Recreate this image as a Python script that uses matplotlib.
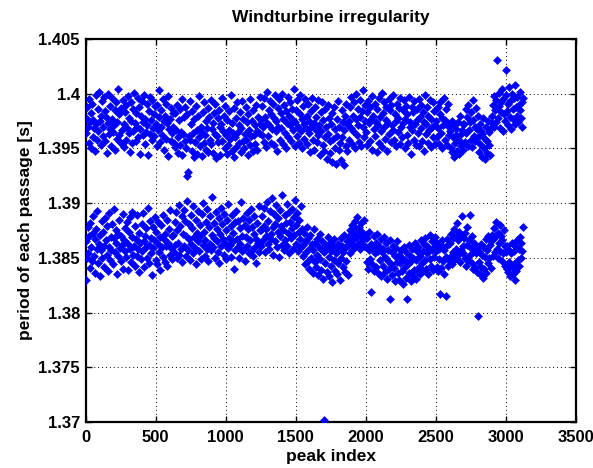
import numpy as np
import matplotlib
matplotlib.use("Agg")
import matplotlib.pyplot as plt

plt.rcParams['font.family'] = ['Liberation Sans', 'DejaVu Sans']

# Values, in units of 0.0001 s above a band base.
# Upper band: base 1.390 s ; lower band: base 1.380 s.  Samples every 5 peaks.
upper_base = 1.390
lower_base = 1.380
peak_step = 5
upper_start = 2
lower_start = 0

upper_seg1 = """78 64 88 70 55 95 74 50 82 91 60 76 69 48 99 72 58 86 66 102 75 53 80 93 61
70 97 57 84 79 46 73 100 63 68 89 52 77 96 65 71 49 85 92 59 74 104 62 81 56
87 67 54 94 72 51 83 90 58 69 98 64 78 47 92 75 55 86 66 101 73 57 82 70 96
60 88 68 45 80 93 62 74 99 54 77 65 91 71 44 84 97 63 76 58 94 69 81 61 89
72 52 90 67 79 103 56 85 70 62 95 75 49 80 91 59 73 43 98 68 77 57 87 64 82"""

upper_seg2 = """70 55 82 51 67 90 60 46 76 86 53 65 95 44 63 79 57 88 50 25 81 28 61 93 58
72 48 84 64 42 77 56 89 67 45 80 60 98 52 70 66 43 83 55 92 62 75 49 69 87
47 79 58 94 54 68 73 46 82 63 91 41 61 78 56 85 70 44 72 96 57 66 80 50 89
62 45 76 53 84 67 59 99 48 73 64 42 87 60 78 51 92 65 55 71 83 47 69 93 57
77 50 63 88 58 74 44 81 67 53 95 61 75 48 85 62 71 54 90 66 49 79 64 97 72"""

upper_seg3 = """76 62 89 70 56 96 79 51 73 102 61 85 71 93 55 81 68 91 53 78 99 66 75 48 87
70 95 58 82 69 100 54 77 90 64 84 50 73 97 60 80 71 92 57 86 67 76 104 52 74
85 61 94 70 55 81 99 66 77 50 89 72 59 95 69 80 54 91 64 75 47 84 70 96 58
73 49 88 67 79 56 94 62 71 44 83 66 92 53 76 48 86 60 70 40 90 63 78 46 57
72 38 82 59 88 50 68 36 77 61 93 49 70 55 39 85 60 74 35 67 80 52 91 48 71"""

upper_seg4 = """75 58 88 69 97 54 80 66 92 50 77 100 62 86 71 56 94 79 52 84 70 103 60 75 90
65 83 53 93 73 57 88 77 98 49 80 68 91 61 74 47 86 71 96 55 79 66 101 51 82
70 92 59 76 88 48 73 95 63 85 56 90 71 67 99 58 81 75 52 91 65 78 87 54 96
70 60 85 73 94 50 77 89 62 81 55 97 70 74 45 88 67 83 58 93 72 53 86 76 64
95 52 79 69 90 57 83 48 74 99 63 72 88 55 80 67 94 51 77 70 60 92 84 54 71"""

upper_seg5 = """75 60 88 69 54 81 92 64 78 50 71 96 58 76 86 53 73 91 62 70
66 50 75 47 60 42 71 55 68 62 48 74 45 58 80 63 52 67 72 49
72 56 86 64 79 52 90 67 74 58 83 51 76 94 61 70 57 87 68 80
60 47 72 54 66 42 63 78 50 59 40 70 57 46 75 53 65 44 69 73
80 90 70 98 85 74 94 131 78 89 101 69 92 83 104 66 95 81 75 99
122 84 91 71 106 79 93 68 100 86 77 96 72 108 88 80 97 74 90 85
102 78 92 70 96"""

lower_seg1 = """30 65 50 78 54 70 41 82 60 47 73 88 52 67 36 76 58 93 45 63 71 33 57 84 50
74 61 42 86 66 53 79 38 60 91 48 69 57 81 44 68 95 55 64 75 35 72 52 85 59
47 70 62 90 40 66 77 56 51 83 63 39 74 58 87 46 69 92 53 61 79 43 67 52 89
58 37 73 64 49 81 56 91 65 42 70 60 77 50 96 62 45 84 54 68 34 78 59 66 87
48 74 44 63 83 55 69 39 80 60 51 89 67 46 72 61 85 43 64 76 53 94 59 70 49"""

lower_seg2 = """71 55 83 62 92 50 75 64 98 53 79 58 88 46 72 94 61 84 52 70 102 57 67 81 48
89 63 77 54 97 69 59 85 44 73 65 93 56 80 70 49 90 62 100 74 52 66 83 58 95
47 78 63 88 57 71 106 60 68 82 50 92 65 76 55 86 45 72 96 61 81 67 53 90 64
75 49 85 59 99 68 62 79 51 89 65 73 40 83 57 93 67 60 84 50 77 63 101 56 70
86 58 80 47 69 91 61 76 54 85 66 95 57 78 52 72 88 60 67 45 82 64 97 55 75"""

lower_seg3 = """75 61 88 66 79 96 55 76 70 101 63 84 58 93 72 67 105 78 53 90 65 81 98 60 74
86 51 94 70 79 62 107 75 57 89 66 82 99 61 73 92 54 83 68 95 77 58 87 71 103
63 80 91 56 74 85 67 97 60 76
62 52 73 44 65 55 78 47 68 40 59 71 50 63 36 57 76 46 64 42 53 67 34 60 49
72 39 57 65 31 55 -98 45 62 37 59 69 33 51 64 43 56 28 61 48 67 38 54 60 35
63 45 57 30 68 50 61 42 55 71 37 59 47 65 34"""

lower_seg4 = """62 70 54 75 64 80 57 72 67 84 60 76 69 87 63 78 58 73 82 65 74 68 85 61 70
60 46 68 40 57 74 49 63 19 44 59 70 38 54 64 42 72 56 36 61 48 67 33 55 43
58 69 37 51 64 31 47 57 40 66 12 44 55 34 61 41 52 29 59 46 65 36 53 30 45
57 38 50 26 60 41 48 32 55 12 44 62 36 52 29 47 58 33 50 39 64 31 48 56 37
60 42 52 35 66 45 56 38 63 48 68 40 54 61 35 58 49 71 43 57 65 39 60 51 69"""

lower_seg5 = """56 42 64 38 58 49 17 62 41 66 47 57 35 60 15 51 67 43 63 48
64 52 72 44 68 55 76 49 70 58 82 53 66 74 46 71 57 88 61 54
68 50 73 43 62 78 48 66 53 89 59 45 70 40 56 64 42 54 37 60
-3 46 56 35 63 42 53 32 60 40 51 67 36 57 45 70 50 62 41 65
71 52 67 77 55 69 83 58 73 50 64 80 56 70 47 66 54 75 43 61
55 40 61 37 57 46 33 54 42 64 35 56 44 30 60 38 66 48 58 43
69 50 64 56 78"""

title = "Windturbine irregularity"
xlabel = "peak index"
ylabel = "period of each passage [s]"
xticks = [0, 500, 1000, 1500, 2000, 2500, 3000, 3500]
yticks = [1.37, 1.375, 1.38, 1.385, 1.39, 1.395, 1.4, 1.405]
yticklabels = ["1.37", "1.375", "1.38", "1.385", "1.39", "1.395", "1.4", "1.405"]


def parse(*segs):
    return np.array(" ".join(segs).split(), dtype=float)


upper_v = parse(upper_seg1, upper_seg2, upper_seg3, upper_seg4, upper_seg5)
lower_v = parse(lower_seg1, lower_seg2, lower_seg3, lower_seg4, lower_seg5)

upper_y = upper_base + upper_v * 1e-4
lower_y = lower_base + lower_v * 1e-4
upper_x = upper_start + peak_step * np.arange(len(upper_y))
lower_x = lower_start + peak_step * np.arange(len(lower_y))

x = np.concatenate([lower_x, upper_x])
y = np.concatenate([lower_y, upper_y])

fig = plt.figure(figsize=(5.93, 4.68), dpi=100)
ax = fig.add_axes([0.1442, 0.0983, 0.8272, 0.8184])

ax.plot(x, y, linestyle='none', marker='D', markersize=3.6,
        markerfacecolor='#0000ff', markeredgecolor='#0000ff',
        markeredgewidth=0.4, zorder=3)

ax.set_xlim(0, 3500)
ax.set_ylim(1.37, 1.405)
ax.set_xticks(xticks)
ax.set_yticks(yticks)
ax.set_yticklabels(yticklabels)

ax.grid(True, color='black', linestyle=(0, (1, 3)), linewidth=0.7)
ax.set_axisbelow(True)
for s in ax.spines.values():
    s.set_linewidth(1.6)
ax.tick_params(direction='in', length=4, width=1.0, top=True, right=True,
               labelsize=12, pad=6)
ax.tick_params(axis='y', pad=4)
for lab in ax.get_xticklabels() + ax.get_yticklabels():
    lab.set_fontweight('bold')

ax.set_title(title, fontsize=12.5, fontweight='bold', pad=12)
ax.set_xlabel(xlabel, fontsize=12.5, fontweight='bold', labelpad=3)
ax.set_ylabel(ylabel, fontsize=12.5, fontweight='bold', labelpad=4)

fig.savefig("out.png", dpi=100)
